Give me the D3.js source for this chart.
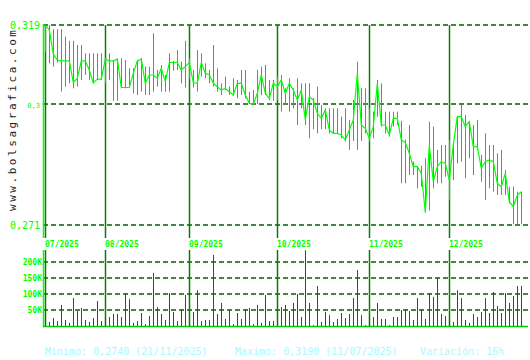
<!DOCTYPE html>
<html>
<head>
<meta charset="utf-8">
<script src="https://cdn.jsdelivr.net/npm/d3@7"></script>
<style>
  body { margin: 0; background: #fff; }
  svg { display: block; font-family: "DejaVu Sans Mono", monospace; }
</style>
</head>
<body>
<svg width="530" height="360"></svg>
<script>
// one point per trading day, 11/07/2025 .. end of 12/2025
var closes = [
  .3190, .3178, .3120, .3106, .3104, .3104, .3104, .3052, .3062, .3104,
  .3104, .3082, .3051, .3060, .3060, .3108, .3104, .3104, .3108, .3040,
  .3040, .3040, .3074, .3104, .3108, .3050, .3070, .3070, .3062, .3086,
  .3054, .3100, .3100, .3100, .3082, .3090, .3100, .3052, .3050, .3100,
  .3074, .3070, .3050, .3042, .3034, .3038, .3030, .3022, .3050, .3050,
  .3022, .3002, .3000, .3026, .3070, .3026, .3014, .3050, .3042, .3058,
  .3026, .3050, .3034, .3010, .3034, .2962, .3018, .3010, .2978, .2966,
  .2986, .2938, .2930, .2930, .2926, .2914, .2938, .2962, .3074, .2950,
  .2942, .2918, .2946, .3050, .2950, .2950, .2926, .2966, .2966, .2914,
  .2908, .2882, .2850, .2850, .2834, .2740, .2902, .2814, .2850, .2862,
  .2858, .2818, .2902, .2970, .2970, .2946, .2958, .2898, .2898, .2846,
  .2862, .2866, .2862, .2810, .2802, .2834, .2766, .2754, .2782, .2790
]
var highs = [
  .3190, .3190, .3180, .3180, .3180, .3162, .3152, .3152, .3142, .3142,
  .3122, .3122, .3122, .3122, .3122, .3110, .3122, .3106, .3110, .3110,
  .3106, .3086, .3086, .3106, .3110, .3090, .3090, .3170, .3082, .3094,
  .3070, .3122, .3104, .3130, .3102, .3152, .3110, .3082, .3130, .3122,
  .3098, .3082, .3142, .3086, .3050, .3066, .3042, .3062, .3058, .3082,
  .3082, .3030, .3034, .3082, .3090, .3094, .3058, .3058, .3066, .3070,
  .3038, .3062, .3038, .3062, .3050, .3050, .3050, .3014, .3042, .2998,
  .2990, .2990, .2990, .2990, .2970, .2990, .2962, .3010, .3102, .3038,
  .3038, .2990, .2982, .3058, .3050, .2982, .2982, .2982, .2982, .2960,
  .2915, .2950, .2862, .2852, .2852, .2870, .2958, .2946, .2890, .2902,
  .2902, .2914, .2902, .2970, .2998, .2974, .2958, .2950, .2962, .2878,
  .2930, .2902, .2902, .2882, .2890, .2842, .2802, .2802, .2790, .2790
]
var lows = [
  .3125, .3098, .3090, .3100, .3030, .3042, .3050, .3038, .3042, .3058,
  .3070, .3058, .3050, .3058, .3058, .3050, .3058, .3008, .3008, .3040,
  .3038, .3040, .3026, .3022, .3030, .3022, .3022, .3030, .3042, .3030,
  .3030, .3030, .3080, .3082, .3050, .3040, .3060, .3040, .3030, .3066,
  .3062, .3050, .3042, .3030, .3022, .3034, .3022, .3020, .3014, .3022,
  .3014, .3000, .2998, .3000, .3022, .3022, .3010, .3008, .3010, .2982,
  .2998, .2982, .2990, .2950, .2990, .2950, .2918, .2940, .2930, .2940,
  .2940, .2930, .2928, .2928, .2918, .2910, .2890, .2912, .2890, .2912,
  .2930, .2910, .2918, .2970, .2946, .2930, .2922, .2946, .2950, .2810,
  .2810, .2830, .2830, .2798, .2802, .2740, .2745, .2798, .2810, .2810,
  .2826, .2770, .2818, .2858, .2862, .2822, .2870, .2830, .2890, .2814,
  .2770, .2798, .2790, .2782, .2782, .2782, .2762, .2712, .2712, .2712
]
var volumes = [
  37500, 12500, 25000, 15600, 65600, 18800, 9400, 87500, 47000, 56000,
  19000, 12500, 25000, 78000, 15600, 25000, 28000, 37500, 37500, 28000,
  102000, 84000, 9400, 15600, 40600, 6000, 31000, 166000, 59000, 37500,
  19000, 103000, 44000, 15600, 53000, 97000, 0, 44000, 112000, 15600,
  19000, 19000, 222000, 37500, 72000, 22000, 50000, 6000, 40600, 22000,
  53000, 56000, 6000, 66000, 9400, 97000, 15600, 15600, 0, 59000,
  66000, 47000, 72000, 100000, 28000, 237000, 72000, 3000, 125000, 12500,
  44000, 34000, 12500, 22000, 40600, 25000, 37500, 87500, 175000, 34000,
  3000, 34000, 28000, 72000, 22000, 22000, 3000, 28000, 28000, 50000,
  53000, 47000, 19000, 87500, 53000, 22000, 103000, 91000, 150000, 37500,
  31000, 19000, 12500, 112000, 87500, 19000, 9400, 37500, 28000, 44000,
  87500, 40600, 106000, 62500, 40600, 103000, 72000, 94000, 125000, 125000
]

// first trading day of each month (index into the arrays above)
var monthIdx = [0, 15, 36, 58, 81, 101]
var monthLabels = ['07/2025', '08/2025', '09/2025', '10/2025', '11/2025', '12/2025']

var priceTicks = [0.319, 0.3, 0.271]
var volTicks = [50000, 100000, 150000, 200000]

var footer = ['Minimo: 0,2740 (21/11/2025)', 'Maximo: 0,3190 (11/07/2025)', 'Variación: 16%']

var svg = d3.select('svg')

var locale = d3.formatLocale({ decimal: ',', thousands: '.', grouping: [3], currency: ['', '€'] })
var fmtPrice = function (v) { return locale.format('~g')(v) }

var x = d3.scaleLinear().domain([0, closes.length - 1]).range([45.3, 521.3])
var y = d3.scaleLinear().domain([0.271, 0.319]).range([225, 25])
var yv = d3.scaleLinear().domain([0, 200000]).range([326, 262])

var left = 43, right = 528

svg.append('rect').attr('width', 530).attr('height', 360).attr('fill', '#fff')

// price grid
svg.selectAll('.pgrid')
  .data(priceTicks)
  .enter().append('line')
    .attr('x1', left).attr('x2', right)
    .attr('y1', function (d) { return Math.round(y(d)) })
    .attr('y2', function (d) { return Math.round(y(d)) })
    .attr('stroke', '#006400')
    .attr('stroke-width', 1.5)
    .attr('stroke-dasharray', '5,3')

// volume grid
svg.selectAll('.vgrid')
  .data(volTicks)
  .enter().append('line')
    .attr('x1', left).attr('x2', right)
    .attr('y1', function (d) { return Math.round(yv(d)) })
    .attr('y2', function (d) { return Math.round(yv(d)) })
    .attr('stroke', '#006400')
    .attr('stroke-width', 1.5)
    .attr('stroke-dasharray', '5,3')

// month separators
var months = svg.selectAll('.month')
  .data(monthIdx)
  .enter().append('g')

months.append('line')
  .attr('x1', function (d) { return Math.round(x(d)) + 0.5 })
  .attr('x2', function (d) { return Math.round(x(d)) + 0.5 })
  .attr('y1', 25).attr('y2', 238)
  .attr('stroke', '#008000').attr('stroke-width', 1.5)

months.append('line')
  .attr('x1', function (d) { return Math.round(x(d)) + 0.5 })
  .attr('x2', function (d) { return Math.round(x(d)) + 0.5 })
  .attr('y1', 250).attr('y2', 326)
  .attr('stroke', '#008000').attr('stroke-width', 1.5)

months.append('text')
  .attr('x', function (d) { return Math.round(x(d)) })
  .attr('y', 247)
  .attr('fill', '#00ff00')
  .attr('font-size', 8)
  .attr('font-weight', 'bold')
  .text(function (d, i) { return monthLabels[i] })

// high-low ranges
svg.selectAll('.hl')
  .data(closes)
  .enter().append('rect')
    .attr('x', function (d, i) { return Math.round(x(i)) })
    .attr('width', 1)
    .attr('y', function (d, i) { return y(highs[i]) })
    .attr('height', function (d, i) { return Math.max(1, y(lows[i]) - y(highs[i])) })
    .attr('fill', '#1aa6b4')

// close line
var line = d3.line()
  .x(function (d, i) { return x(i) })
  .y(function (d) { return y(d) })

svg.append('path')
  .datum(closes)
  .attr('d', line)
  .attr('fill', 'none')
  .attr('stroke', '#00ff00')
  .attr('stroke-width', 1.2)

// volume bars
svg.selectAll('.vol')
  .data(volumes)
  .enter().append('rect')
    .attr('x', function (d, i) { return Math.round(x(i)) })
    .attr('width', 1)
    .attr('y', function (d) { return yv(d) })
    .attr('height', function (d) { return yv(0) - yv(d) })
    .attr('fill', '#e00000')

// axes
svg.append('line').attr('x1', 43.5).attr('x2', 43.5).attr('y1', 24).attr('y2', 238)
  .attr('stroke', '#00ff00').attr('stroke-width', 1.5)
svg.append('line').attr('x1', 43.5).attr('x2', 43.5).attr('y1', 250).attr('y2', 327)
  .attr('stroke', '#00ff00').attr('stroke-width', 1.5)
svg.append('line').attr('x1', 43).attr('x2', right).attr('y1', 326.5).attr('y2', 326.5)
  .attr('stroke', '#00cc00').attr('stroke-width', 1.5)

// price labels
svg.selectAll('.plab')
  .data(priceTicks)
  .enter().append('text')
    .attr('x', 40)
    .attr('y', function (d) { return y(d) + 4 })
    .attr('text-anchor', 'end')
    .attr('fill', '#00ff00')
    .attr('font-size', function (d, i) { return i === 1 ? 7 : 10 })
    .text(fmtPrice)

// volume labels
svg.selectAll('.vlab')
  .data(volTicks)
  .enter().append('text')
    .attr('x', 42)
    .attr('y', function (d) { return Math.round(yv(d)) + 3 })
    .attr('text-anchor', 'end')
    .attr('fill', '#00ff00')
    .attr('font-size', 8)
    .attr('font-weight', 'bold')
    .text(function (d) { return (d / 1000) + 'K' })

// site name, vertical
svg.append('text')
  .attr('transform', 'translate(16,211) rotate(-90)')
  .attr('fill', '#222')
  .attr('font-size', 11)
  .attr('textLength', 181)
  .attr('lengthAdjust', 'spacing')
  .text('www.bolsagrafica.com')

// footer
svg.selectAll('.foot')
  .data(footer)
  .enter().append('text')
    .attr('x', function (d, i) { return [45, 235, 420][i] })
    .attr('y', 355)
    .attr('fill', '#a8f8ff')
    .attr('font-size', 10)
    .text(function (d) { return d })
</script>
</body>
</html>
